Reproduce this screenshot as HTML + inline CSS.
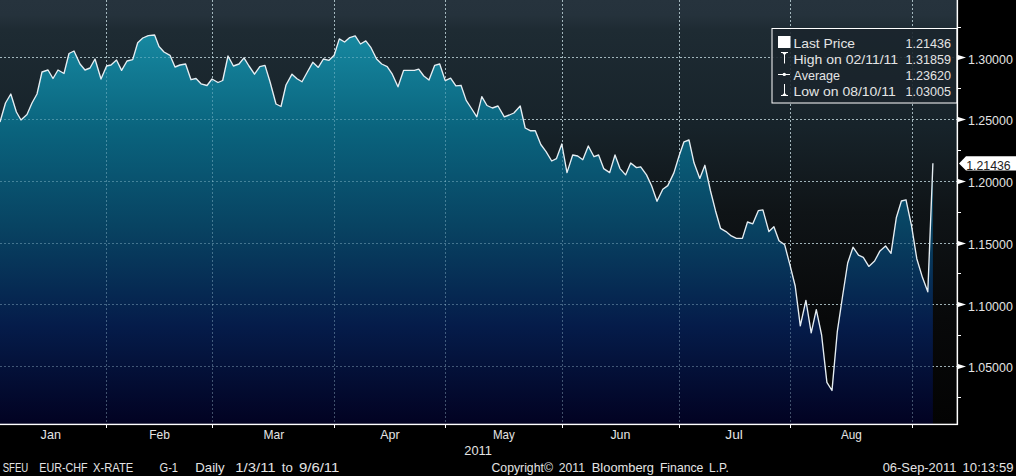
<!DOCTYPE html>
<html><head><meta charset="utf-8"><title>EUR-CHF X-RATE</title>
<style>html,body{margin:0;padding:0;background:#000;overflow:hidden}svg{display:block}text{font-family:"Liberation Sans",sans-serif;font-size:13px;fill:#e4e4e4}</style></head><body>
<svg width="1016" height="476" viewBox="0 0 1016 476">
<defs>
<linearGradient id="bg" x1="0" y1="0" x2="0" y2="1">
<stop offset="0" stop-color="#26333d"/>
<stop offset="0.035" stop-color="#25323c"/>
<stop offset="0.07" stop-color="#1e2b33"/>
<stop offset="0.3" stop-color="#17232a"/>
<stop offset="0.5" stop-color="#0f1417"/>
<stop offset="0.75" stop-color="#08090a"/>
<stop offset="1" stop-color="#030303"/>
</linearGradient>
<linearGradient id="fill" gradientUnits="userSpaceOnUse" x1="0" y1="30" x2="0" y2="424">
<stop offset="0" stop-color="#178aa2"/>
<stop offset="0.25" stop-color="#0a647e"/>
<stop offset="0.5" stop-color="#084362"/>
<stop offset="0.75" stop-color="#051c4a"/>
<stop offset="1" stop-color="#020222"/>
</linearGradient>
</defs>
<rect x="0" y="0" width="1016" height="476" fill="#000"/>
<rect x="0" y="0" width="957" height="424" fill="url(#bg)"/>
<path d="M0,57.5 H957 M0,119.5 H957 M0,181.5 H957 M0,243.5 H957 M0,304.5 H957 M0,366.5 H957 M106.5,0 V424 M212.5,0 V424 M334.5,0 V424 M445.5,0 V424 M562.5,0 V424 M679.5,0 V424 M790.5,0 V424 M912.5,0 V424" stroke="#c8d0d2" stroke-opacity="0.7" stroke-width="1" stroke-dasharray="2,2" fill="none"/>
<path d="M0.0,424 L0.0,122.0 L5.5,103.0 L10.8,94.0 L16.4,112.0 L21.0,120.0 L27.0,114.5 L32.0,103.0 L37.0,94.0 L42.0,72.0 L48.0,70.0 L53.0,78.5 L58.0,70.0 L64.0,73.5 L69.0,53.5 L74.0,51.0 L80.0,64.0 L85.0,70.0 L90.0,68.0 L95.0,59.0 L101.0,79.0 L106.6,66.0 L111.0,65.0 L116.5,60.0 L121.6,70.4 L127.0,61.0 L132.7,59.6 L137.7,42.7 L142.8,38.0 L148.3,35.6 L154.6,35.0 L159.0,46.5 L164.0,52.0 L170.0,55.3 L175.0,67.0 L180.0,65.0 L185.6,64.0 L191.0,79.7 L196.0,78.5 L201.0,83.8 L207.0,85.5 L212.0,79.0 L218.0,82.5 L222.7,80.5 L228.0,56.0 L233.4,66.0 L239.0,64.0 L244.0,57.8 L249.0,66.0 L254.5,74.2 L259.8,66.6 L265.0,65.4 L270.0,81.8 L276.0,104.0 L281.0,106.5 L286.0,85.0 L292.0,74.2 L297.0,78.7 L302.0,81.8 L307.5,71.7 L312.8,62.3 L318.3,67.4 L323.4,59.0 L329.0,60.3 L334.2,55.3 L339.3,38.9 L344.6,42.0 L349.7,37.6 L355.2,35.9 L360.5,44.0 L365.8,40.9 L371.0,47.7 L376.6,59.0 L381.7,64.0 L387.2,66.6 L392.3,74.2 L398.0,86.8 L403.6,70.4 L409.4,70.4 L414.4,70.4 L418.7,69.2 L423.8,76.0 L429.0,80.0 L434.6,65.4 L439.7,64.0 L445.2,80.6 L450.6,78.2 L455.9,85.8 L461.0,85.3 L466.2,100.4 L471.5,108.5 L476.8,116.8 L481.8,96.6 L487.0,105.5 L492.4,108.0 L498.0,106.0 L504.3,116.8 L509.3,115.0 L513.9,113.0 L520.2,106.0 L525.2,128.0 L530.2,130.7 L535.3,130.7 L540.8,144.5 L545.9,151.3 L551.7,161.0 L556.4,158.7 L561.8,144.0 L567.0,172.6 L572.7,155.0 L577.7,156.0 L582.8,159.7 L588.3,146.0 L594.0,156.7 L598.6,155.0 L603.7,168.6 L609.7,172.6 L615.0,155.0 L620.0,168.6 L625.6,174.9 L630.7,163.0 L636.5,167.6 L640.7,166.8 L646.5,174.9 L651.6,185.7 L657.0,201.3 L662.8,189.3 L667.8,185.6 L673.9,172.9 L678.9,156.5 L684.0,141.8 L689.0,140.0 L694.0,162.8 L699.8,178.4 L704.9,165.3 L710.4,190.5 L715.5,210.7 L720.5,228.3 L726.0,231.6 L731.3,235.9 L736.4,238.4 L742.4,238.4 L747.5,222.0 L752.8,223.8 L758.3,210.7 L762.9,209.9 L768.9,231.6 L773.9,226.7 L779.0,240.8 L784.7,244.8 L790.0,265.2 L795.2,286.0 L800.3,325.8 L805.9,300.4 L811.2,332.8 L816.3,309.6 L821.6,335.0 L826.9,382.4 L832.0,390.5 L837.3,331.6 L842.6,296.0 L847.7,263.0 L853.0,247.2 L858.5,255.2 L863.3,257.4 L868.8,266.4 L874.6,261.0 L880.0,250.9 L885.6,246.0 L891.0,253.4 L896.3,217.8 L901.4,201.0 L906.0,199.8 L911.5,225.6 L916.8,258.7 L922.5,277.6 L927.8,291.8 L932.9,163.2 L932.9,424 Z" fill="url(#fill)"/>
<path d="M0,57.5 H957 M0,119.5 H957 M0,181.5 H957 M0,243.5 H957 M0,304.5 H957 M0,366.5 H957 M106.5,0 V424 M212.5,0 V424 M334.5,0 V424 M445.5,0 V424 M562.5,0 V424 M679.5,0 V424 M790.5,0 V424 M912.5,0 V424" stroke="#bfe6f2" stroke-opacity="0.33" stroke-width="1" stroke-dasharray="2,2" fill="none"/>
<polyline points="0.0,122.0 5.5,103.0 10.8,94.0 16.4,112.0 21.0,120.0 27.0,114.5 32.0,103.0 37.0,94.0 42.0,72.0 48.0,70.0 53.0,78.5 58.0,70.0 64.0,73.5 69.0,53.5 74.0,51.0 80.0,64.0 85.0,70.0 90.0,68.0 95.0,59.0 101.0,79.0 106.6,66.0 111.0,65.0 116.5,60.0 121.6,70.4 127.0,61.0 132.7,59.6 137.7,42.7 142.8,38.0 148.3,35.6 154.6,35.0 159.0,46.5 164.0,52.0 170.0,55.3 175.0,67.0 180.0,65.0 185.6,64.0 191.0,79.7 196.0,78.5 201.0,83.8 207.0,85.5 212.0,79.0 218.0,82.5 222.7,80.5 228.0,56.0 233.4,66.0 239.0,64.0 244.0,57.8 249.0,66.0 254.5,74.2 259.8,66.6 265.0,65.4 270.0,81.8 276.0,104.0 281.0,106.5 286.0,85.0 292.0,74.2 297.0,78.7 302.0,81.8 307.5,71.7 312.8,62.3 318.3,67.4 323.4,59.0 329.0,60.3 334.2,55.3 339.3,38.9 344.6,42.0 349.7,37.6 355.2,35.9 360.5,44.0 365.8,40.9 371.0,47.7 376.6,59.0 381.7,64.0 387.2,66.6 392.3,74.2 398.0,86.8 403.6,70.4 409.4,70.4 414.4,70.4 418.7,69.2 423.8,76.0 429.0,80.0 434.6,65.4 439.7,64.0 445.2,80.6 450.6,78.2 455.9,85.8 461.0,85.3 466.2,100.4 471.5,108.5 476.8,116.8 481.8,96.6 487.0,105.5 492.4,108.0 498.0,106.0 504.3,116.8 509.3,115.0 513.9,113.0 520.2,106.0 525.2,128.0 530.2,130.7 535.3,130.7 540.8,144.5 545.9,151.3 551.7,161.0 556.4,158.7 561.8,144.0 567.0,172.6 572.7,155.0 577.7,156.0 582.8,159.7 588.3,146.0 594.0,156.7 598.6,155.0 603.7,168.6 609.7,172.6 615.0,155.0 620.0,168.6 625.6,174.9 630.7,163.0 636.5,167.6 640.7,166.8 646.5,174.9 651.6,185.7 657.0,201.3 662.8,189.3 667.8,185.6 673.9,172.9 678.9,156.5 684.0,141.8 689.0,140.0 694.0,162.8 699.8,178.4 704.9,165.3 710.4,190.5 715.5,210.7 720.5,228.3 726.0,231.6 731.3,235.9 736.4,238.4 742.4,238.4 747.5,222.0 752.8,223.8 758.3,210.7 762.9,209.9 768.9,231.6 773.9,226.7 779.0,240.8 784.7,244.8 790.0,265.2 795.2,286.0 800.3,325.8 805.9,300.4 811.2,332.8 816.3,309.6 821.6,335.0 826.9,382.4 832.0,390.5 837.3,331.6 842.6,296.0 847.7,263.0 853.0,247.2 858.5,255.2 863.3,257.4 868.8,266.4 874.6,261.0 880.0,250.9 885.6,246.0 891.0,253.4 896.3,217.8 901.4,201.0 906.0,199.8 911.5,225.6 916.8,258.7 922.5,277.6 927.8,291.8 932.9,163.2" fill="none" stroke="#e6eef3" stroke-width="1.35" stroke-linejoin="round"/>
<rect x="772" y="28.5" width="185" height="74.5" fill="#1b252c" fill-opacity="0.9" stroke="#fff" stroke-width="1"/>
<rect x="0" y="423.7" width="958" height="1.4" fill="#fff"/>
<rect x="956.6" y="0" width="1.5" height="425" fill="#fff"/>
<path d="M106.5,424 v4 M212.5,424 v4 M334.5,424 v4 M445.5,424 v4 M562.5,424 v4 M679.5,424 v4 M790.5,424 v4 M912.5,424 v4" stroke="#fff" stroke-width="1" fill="none"/>
<path d="M958,27.5 h3 M958,88.5 h3 M958,150.5 h3 M958,212.5 h3 M958,273.5 h3 M958,335.5 h3 M958,397.5 h3" stroke="#fff" stroke-width="1" fill="none"/>
<path d="M958,54.9 L966,57.5 L958,60.1 Z" fill="#fff"/>
<text x="968" y="63.8" textLength="44.8" lengthAdjust="spacingAndGlyphs">1.30000</text>
<path d="M958,116.9 L966,119.5 L958,122.1 Z" fill="#fff"/>
<text x="968" y="125.4" textLength="44.8" lengthAdjust="spacingAndGlyphs">1.25000</text>
<path d="M958,178.9 L966,181.5 L958,184.1 Z" fill="#fff"/>
<text x="968" y="187" textLength="44.8" lengthAdjust="spacingAndGlyphs">1.20000</text>
<path d="M958,240.9 L966,243.5 L958,246.1 Z" fill="#fff"/>
<text x="968" y="248.8" textLength="44.8" lengthAdjust="spacingAndGlyphs">1.15000</text>
<path d="M958,301.9 L966,304.5 L958,307.1 Z" fill="#fff"/>
<text x="968" y="310.5" textLength="44.8" lengthAdjust="spacingAndGlyphs">1.10000</text>
<path d="M958,363.9 L966,366.5 L958,369.1 Z" fill="#fff"/>
<text x="968" y="371.8" textLength="44.8" lengthAdjust="spacingAndGlyphs">1.05000</text>
<path d="M959,163.5 L966,156.2 H1016 V170.6 H966 Z" fill="#fff"/>
<text x="966.2" y="169.8" textLength="44.5" lengthAdjust="spacingAndGlyphs" style="fill:#222">1.21436</text>
<text x="40.6" y="439" textLength="20.3" lengthAdjust="spacingAndGlyphs">Jan</text>
<text x="149.2" y="439" textLength="20.7" lengthAdjust="spacingAndGlyphs">Feb</text>
<text x="263.5" y="439" textLength="20.7" lengthAdjust="spacingAndGlyphs">Mar</text>
<text x="380.2" y="439" textLength="19.4" lengthAdjust="spacingAndGlyphs">Apr</text>
<text x="492.9" y="439" textLength="21.8" lengthAdjust="spacingAndGlyphs">May</text>
<text x="610.4" y="439" textLength="20" lengthAdjust="spacingAndGlyphs">Jun</text>
<text x="725.3" y="439" textLength="17.5" lengthAdjust="spacingAndGlyphs">Jul</text>
<text x="841" y="439" textLength="20.9" lengthAdjust="spacingAndGlyphs">Aug</text>
<text x="464.3" y="455" textLength="27.6" lengthAdjust="spacingAndGlyphs">2011</text>
<text x="793.5" y="47.5" textLength="61.5" lengthAdjust="spacingAndGlyphs">Last Price</text>
<text x="905.5" y="47.5" textLength="45.5" lengthAdjust="spacingAndGlyphs">1.21436</text>
<text x="793.5" y="63.5" textLength="104.6" lengthAdjust="spacingAndGlyphs">High on 02/11/11</text>
<text x="905.5" y="63.5" textLength="45.5" lengthAdjust="spacingAndGlyphs">1.31859</text>
<text x="793.5" y="79.5" textLength="46.5" lengthAdjust="spacingAndGlyphs">Average</text>
<text x="905.5" y="79.5" textLength="45.5" lengthAdjust="spacingAndGlyphs">1.23620</text>
<text x="793.5" y="95.5" textLength="102.2" lengthAdjust="spacingAndGlyphs">Low on 08/10/11</text>
<text x="905.5" y="95.5" textLength="45.5" lengthAdjust="spacingAndGlyphs">1.03005</text>
<rect x="778" y="36" width="12.5" height="12" fill="#fff"/>
<path d="M781,52 H788 V53 H786.6 L785,54.8 V63.5 H784 V54.8 L782.4,53 H781 Z" fill="#fff"/>
<path d="M778,74.5 h12" stroke="#fff" stroke-width="1" fill="none"/><circle cx="784.3" cy="74.4" r="1.7" fill="#fff"/>
<path d="M781,96 H788 V95 H786.6 L785,93.2 V84 H784 V93.2 L782.4,95 H781 Z" fill="#fff"/>
<text x="2.7" y="472" textLength="25.6" lengthAdjust="spacingAndGlyphs">SFEU</text>
<text x="39.3" y="472" textLength="48.4" lengthAdjust="spacingAndGlyphs">EUR-CHF</text>
<text x="93" y="472" textLength="40.2" lengthAdjust="spacingAndGlyphs">X-RATE</text>
<text x="159.5" y="472" textLength="18.5" lengthAdjust="spacingAndGlyphs">G-1</text>
<text x="195.3" y="472" textLength="29.3" lengthAdjust="spacingAndGlyphs">Daily</text>
<text x="235.3" y="472" textLength="40.3" lengthAdjust="spacingAndGlyphs">1/3/11</text>
<text x="281.8" y="472" textLength="11" lengthAdjust="spacingAndGlyphs">to</text>
<text x="299" y="472" textLength="40.3" lengthAdjust="spacingAndGlyphs">9/6/11</text>
<text x="491.5" y="472" textLength="61.4" lengthAdjust="spacingAndGlyphs">Copyright©</text>
<text x="558.8" y="472" textLength="26.1" lengthAdjust="spacingAndGlyphs">2011</text>
<text x="591.8" y="472" textLength="62.2" lengthAdjust="spacingAndGlyphs">Bloomberg</text>
<text x="659.9" y="472" textLength="43.5" lengthAdjust="spacingAndGlyphs">Finance</text>
<text x="709" y="472" textLength="19.7" lengthAdjust="spacingAndGlyphs">L.P.</text>
<text x="882.7" y="472" textLength="73.7" lengthAdjust="spacingAndGlyphs">06-Sep-2011</text>
<text x="962.6" y="472" textLength="50.9" lengthAdjust="spacingAndGlyphs">10:13:59</text>
</svg></body></html>
